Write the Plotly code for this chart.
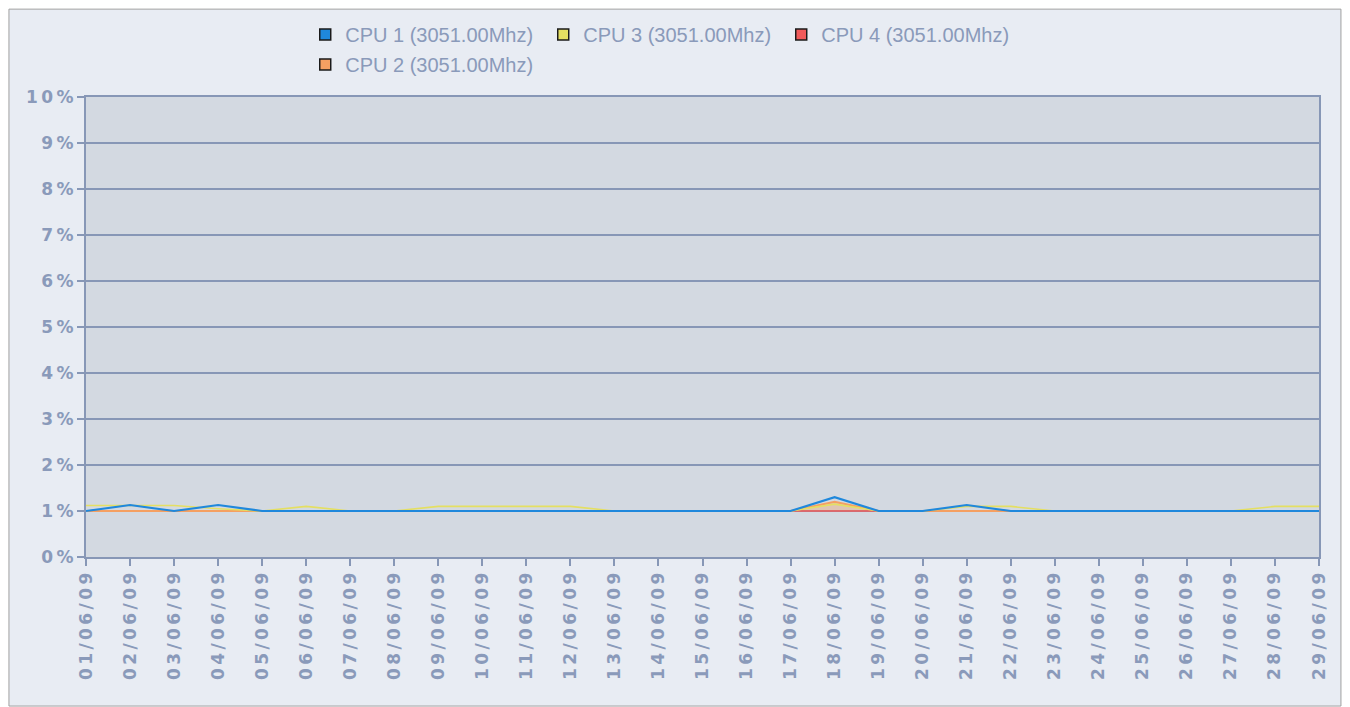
import plotly.graph_objects as go

dates = ["01/06/09", "02/06/09", "03/06/09", "04/06/09", "05/06/09", "06/06/09", "07/06/09",
         "08/06/09", "09/06/09", "10/06/09", "11/06/09", "12/06/09", "13/06/09", "14/06/09",
         "15/06/09", "16/06/09", "17/06/09", "18/06/09", "19/06/09", "20/06/09", "21/06/09",
         "22/06/09", "23/06/09", "24/06/09", "25/06/09", "26/06/09", "27/06/09", "28/06/09",
         "29/06/09"]

cpu1 = [1.0, 1.13, 1.0, 1.13, 1.0, 1.0, 1.0, 1.0, 1.0, 1.0, 1.0, 1.0, 1.0, 1.0, 1.0,
        1.0, 1.0, 1.3, 1.0, 1.0, 1.13, 1.0, 1.0, 1.0, 1.0, 1.0, 1.0, 1.0, 1.0]
cpu2 = [1.0, 1.0, 1.0, 1.0, 1.0, 1.0, 1.0, 1.0, 1.0, 1.0, 1.0, 1.0, 1.0, 1.0, 1.0,
        1.0, 1.0, 1.2, 1.0, 1.0, 1.0, 1.0, 1.0, 1.0, 1.0, 1.0, 1.0, 1.0, 1.0]
cpu3 = [1.12, 1.12, 1.12, 1.05, 1.0, 1.1, 1.0, 1.0, 1.1, 1.1, 1.1, 1.1, 1.0, 1.0, 1.0,
        1.0, 1.0, 1.15, 1.0, 1.0, 1.1, 1.1, 1.0, 1.0, 1.0, 1.0, 1.0, 1.1, 1.1]
cpu4 = [1.0] * 29

names = ["CPU 1 (3051.00Mhz)", "CPU 2 (3051.00Mhz)", "CPU 3 (3051.00Mhz)", "CPU 4 (3051.00Mhz)"]
colors = ["#1f88dc", "#f5a062", "#e4df62", "#f05a5a"]
yticks = [0, 1, 2, 3, 4, 5, 6, 7, 8, 9, 10]

axis_col = "#8797b6"
text_col = "#8a9aba"

fig = go.Figure()

series = [cpu1, cpu2, cpu3, cpu4]
draw_order = [3, 1, 2, 0]
widths = {0: 2.2, 1: 2, 2: 1.6, 3: 1.5}
for i in draw_order:
    fig.add_trace(go.Scatter(
        x=dates, y=series[i], mode="lines", name=names[i],
        line=dict(color=colors[i], width=widths[i]),
        fill="tonexty" if i == 1 else None,
        fillcolor="rgba(245,160,98,0.35)" if i == 1 else None,
        showlegend=False, hoverinfo="x+y+name"))

# legend entries (square swatches)
legend_map = [(0, "legend", 1), (2, "legend", 2), (3, "legend", 3), (1, "legend2", 1)]
for i, lg, rank in legend_map:
    fig.add_trace(go.Scatter(
        x=[None], y=[None], mode="markers", name=names[i],
        marker=dict(symbol="square", size=11, color=colors[i],
                    line=dict(color="#1a1a1a", width=1.5)),
        legend=lg, legendrank=rank, showlegend=True))

TS = "\u2009"
spaced_dates = [TS.join(d) for d in dates]
spaced_y = [TS.join(str(v)) + TS + "%" for v in yticks]

legend_font = dict(family="Liberation Sans, Arial", size=20, color=text_col)
tick_font = dict(family="DejaVu Sans", size=17, color=text_col, weight="bold")

fig.update_layout(
    width=1342, height=699,
    margin=dict(l=78, r=31, t=89, b=150, autoexpand=False),
    paper_bgcolor="white",
    plot_bgcolor="#d3d9e1",
    legend=dict(orientation="h", x=0.1778, y=1.178, xanchor="left", yanchor="top",
                bgcolor="rgba(0,0,0,0)", traceorder="normal", font=legend_font,
                itemwidth=30, entrywidth=193, entrywidthmode="pixels"),
    legend2=dict(orientation="h", x=0.1778, y=1.113, xanchor="left", yanchor="top",
                 bgcolor="rgba(0,0,0,0)", font=legend_font, itemwidth=30),
    shapes=[dict(type="rect", xref="paper", yref="paper", layer="below",
                 x0=-0.0625, x1=1.0178, y0=-0.324, y1=1.191,
                 fillcolor="#e8ecf3", line=dict(color="#a0a0a0", width=1)),
            dict(type="rect", xref="paper", yref="paper", layer="below",
                 x0=0, x1=1, y0=0, y1=1,
                 fillcolor="#d3d9e1", line=dict(width=0))],
    xaxis=dict(type="category", range=[0, 28], tickangle=-90, automargin=False,
               tickmode="array", tickvals=dates, ticktext=spaced_dates,
               tickfont=tick_font,
               ticks="outside", ticklen=7, tickcolor=axis_col, tickwidth=2,
               showline=True, linecolor=axis_col, linewidth=2, mirror=True,
               showgrid=False, zeroline=False),
    yaxis=dict(range=[0, 10], tickmode="array", tickvals=yticks, ticktext=spaced_y,
               automargin=False, tickfont=tick_font,
               ticks="outside", ticklen=7, tickcolor=axis_col, tickwidth=2,
               showline=True, linecolor=axis_col, linewidth=2, mirror=True,
               showgrid=True, gridcolor=axis_col, gridwidth=2, zeroline=False),
)

fig.write_html("out.html")
